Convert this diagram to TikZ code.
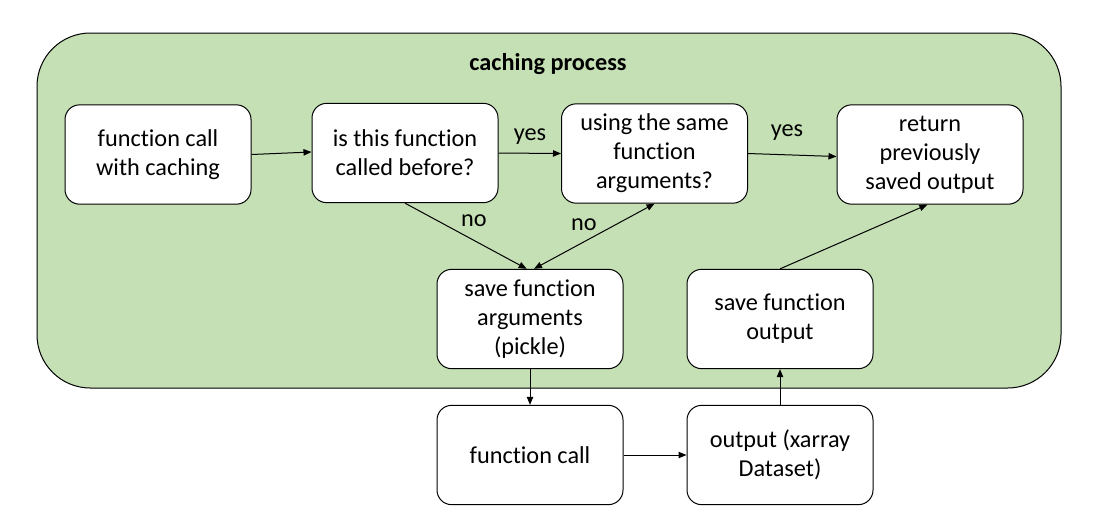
\documentclass[tikz,border=0pt]{standalone}
\usepackage{fontspec}
\setmainfont[Ligatures=NoCommon]{Carlito}
\usetikzlibrary{arrows.meta}
\definecolor{bggreen}{HTML}{C5E0B4}
\begin{document}
\begin{tikzpicture}[x=0.75pt,y=-0.75pt,
  box/.style={draw=black,line width=0.75pt,fill=white,rounded corners=11pt,
    minimum width=139.5pt,minimum height=74.5pt,inner sep=0pt,align=center,
    font=\fontsize{18.2}{21.75}\selectfont},
  arr/.style={line width=0.75pt,-{Triangle[length=6pt,width=4.8pt]}},
  darr/.style={line width=0.75pt,{Triangle[length=6pt,width=4.8pt]}-{Triangle[length=6pt,width=4.8pt]}},
  lbl/.style={font=\fontsize{18.2}{21.75}\selectfont,inner sep=0pt}]
\useasboundingbox (0,0) rectangle (1102,522);
\fill[white] (0,0) rectangle (1102,522);
\draw[fill=bggreen,line width=0.75pt,rounded corners=40pt] (37,33) rectangle (1061,388);
\node[font=\fontsize{18.2}{21.75}\selectfont\bfseries] (title) at (548,64) {caching process};
\node[box] (A) at (158,154.5) {function call\\with caching};
\node[box] (B) at (405,153) {is this function\\called before?};
\node[box] (C) at (654.5,153.5) {using the same\\function\\arguments?};
\node[box] (D) at (930,154.5) {return\\previously\\saved output};
\node[box] (E) at (530,319) {save function\\arguments\\(pickle)};
\node[box] (F) at (780,319) {save function\\output};
\node[box] (G) at (530,455) {function call};
\node[box] (H) at (780,455) {output (xarray\\Dataset)};
\draw[arr] (A.east) -- ([yshift=0.75pt]B.west);
\draw[arr] (B.east) -- (C.west);
\node[lbl] (yes1) at (530,137) {yes};
\draw[arr] (C.east) -- ([yshift=-1.5pt]D.west);
\node[lbl] (yes2) at (787,133) {yes};
\draw[arr] (B.south) -- ([xshift=-2.5pt]E.north);
\node[lbl] (no1) at (474,221) {no};
\draw[darr] ([xshift=3pt]E.north) -- (C.south);
\node[lbl] (no2) at (584,225) {no};
\draw[arr] (E.south) -- (G.north);
\draw[arr] (G.east) -- (H.west);
\draw[arr] (H.north) -- (F.north |- F.south);
\draw[arr] (F.north) -- ([xshift=-2pt]D.south);
\end{tikzpicture}
\end{document}
